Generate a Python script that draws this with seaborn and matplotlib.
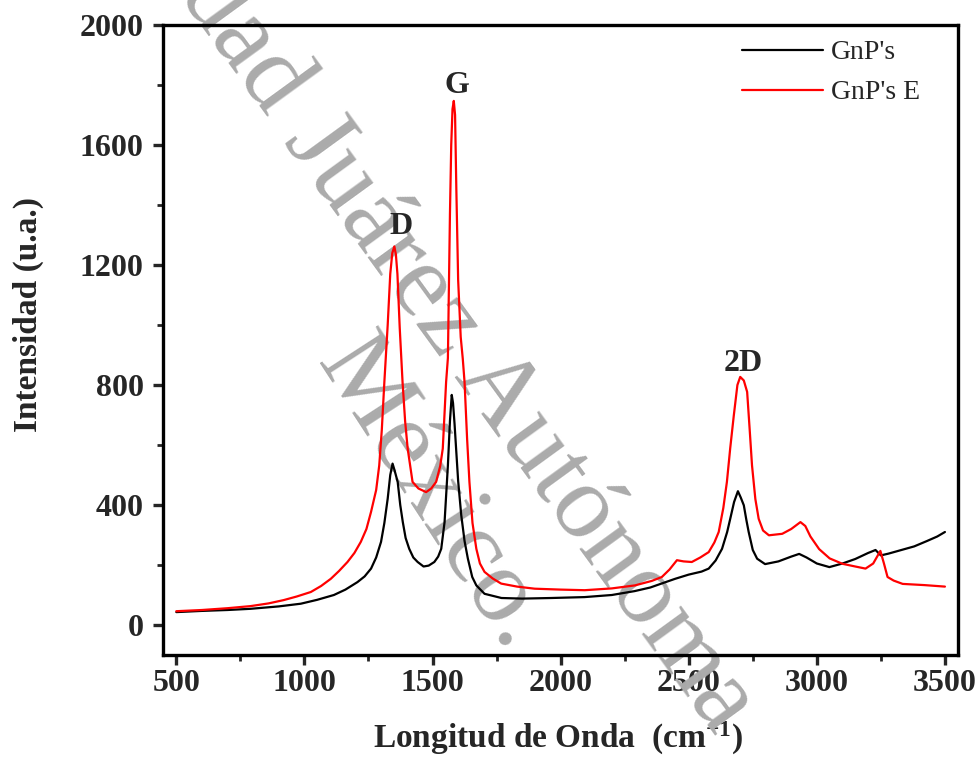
import matplotlib
matplotlib.use("Agg")
import matplotlib.pyplot as plt
import seaborn as sns
import pandas as pd
from matplotlib.ticker import MultipleLocator

# ---------------- data ----------------
series_names = ["GnP's", "GnP's E"]
series_colors = ["#000000", "#ff0000"]

gnp_x = [500, 600, 700, 790, 900, 986, 1050, 1115, 1160, 1207, 1235, 1260, 1280, 1299,
         1312, 1325, 1335, 1344, 1352, 1364, 1374, 1384, 1395, 1409, 1425, 1442, 1465,
         1485, 1507, 1522, 1534, 1547, 1560, 1568, 1575, 1580, 1586, 1592, 1600, 1612,
         1625, 1638, 1655, 1671, 1703, 1769, 1850, 1964, 2093, 2200, 2289, 2350, 2400,
         2447, 2500, 2550, 2578, 2605, 2630, 2650, 2662, 2677, 2692, 2703, 2715, 2725,
         2734, 2750, 2767, 2798, 2850, 2900, 2931, 2960, 3000, 3049, 3100, 3150, 3200,
         3229, 3250, 3280, 3330, 3380, 3430, 3470, 3500]
gnp_y = [43, 47, 50, 54, 62, 71, 84, 100, 118, 143, 162, 188, 225, 277,
         340, 421, 500, 538, 515, 477, 400, 343, 290, 254, 225, 210, 195,
         198, 210, 228, 254, 343, 532, 680, 767, 740, 670, 588, 480, 367,
         280, 221, 160, 132, 104, 90, 88, 90, 93, 100, 113, 125, 140,
         154, 168, 178, 188, 215, 254, 310, 354, 410, 446, 425, 399, 350,
         310, 250, 221, 203, 212, 228, 237, 225, 205, 193, 205, 220, 240,
         250, 232, 238, 250, 262, 280, 295, 310]

gnpe_x = [500, 600, 700, 790, 860, 919, 970, 1025, 1065, 1103, 1135, 1168, 1195, 1220,
          1242, 1260, 1280, 1292, 1302, 1312, 1325, 1335, 1343, 1351, 1357, 1363, 1372,
          1383, 1393, 1403, 1422, 1445, 1475, 1495, 1514, 1530, 1540, 1553, 1560, 1568,
          1573, 1578, 1583, 1588, 1593, 1600, 1610, 1618, 1625, 1635, 1644, 1656, 1671,
          1685, 1703, 1735, 1768, 1830, 1899, 2000, 2094, 2200, 2290, 2356, 2395, 2425,
          2454, 2480, 2512, 2545, 2578, 2600, 2617, 2635, 2649, 2662, 2676, 2690, 2701,
          2715, 2728, 2738, 2747, 2760, 2773, 2790, 2813, 2865, 2900, 2936, 2955, 2975,
          3009, 3050, 3100, 3150, 3190, 3220, 3248, 3262, 3276, 3300, 3335, 3420, 3500]
gnpe_y = [46, 50, 56, 63, 72, 83, 95, 110, 130, 154, 180, 210, 240, 277,
          320, 377, 450, 532, 650, 810, 1000, 1170, 1240, 1262, 1235, 1170, 990,
          810, 680, 588, 477, 455, 443, 455, 477, 530, 588, 810, 890, 1370,
          1600, 1720, 1747, 1700, 1450, 1150, 960, 888, 810, 620, 477, 340, 254,
          205, 177, 155, 138, 128, 121, 118, 116, 122, 132, 147, 160, 185,
          216, 212, 210, 225, 243, 275, 310, 390, 477, 590, 699, 800, 827,
          815, 777, 650, 532, 420, 354, 315, 299, 304, 320, 343, 330, 295,
          253, 222, 204, 195, 188, 205, 247, 205, 160, 148, 137, 133, 128]

peak_labels = ["D", "G", "2D"]
peak_label_x = [1377, 1596, 2712]
peak_label_y = [1330, 1797, 873]

x_ticks = [500, 1000, 1500, 2000, 2500, 3000, 3500]
y_ticks = [0, 400, 800, 1200, 1600, 2000]

watermark_line1a = "Universidad"
watermark_line1b = "Juárez Autónoma"
watermark_line2 = "México."

# ---------------- style ----------------
sns.set_style("ticks")
plt.rcParams["font.family"] = ["Liberation Serif", "DejaVu Serif"]
plt.rcParams["mathtext.fontset"] = "custom"
plt.rcParams["mathtext.rm"] = "Liberation Serif:bold"
plt.rcParams["mathtext.bf"] = "Liberation Serif:bold"
plt.rcParams["mathtext.it"] = "Liberation Serif:bold"

df = pd.concat([
    pd.DataFrame({"x": gnp_x, "y": gnp_y, "serie": series_names[0]}),
    pd.DataFrame({"x": gnpe_x, "y": gnpe_y, "serie": series_names[1]}),
], ignore_index=True)

W, H = 980, 765
fig = plt.figure(figsize=(W / 100, H / 100), dpi=100)
L, R, T, B = 163, 958, 25, 655
ax = fig.add_axes([L / W, 1 - B / H, (R - L) / W, (B - T) / H])

# watermark (behind the curves)
wm = dict(transform=fig.transFigure, rotation_mode="anchor",
          fontsize=76, color="#ababab", zorder=1, clip_on=False,
          fontweight="normal", family="Liberation Serif", va="baseline")
ax.text(267 / W, 1 - 120 / H, watermark_line1a, ha="right", rotation=-54, **wm)
ax.text(283 / W, 1 - 141 / H, watermark_line1b, ha="left", rotation=-54, **wm)
ax.text(316 / W, 1 - 362 / H, watermark_line2, ha="left", rotation=-57, **wm)

sns.lineplot(data=df, x="x", y="y", hue="serie", palette=series_colors,
             estimator=None, sort=False, linewidth=1.6, ax=ax, zorder=2)

ax.set_xlim(448, 3551)
ax.set_ylim(-100, 2000)
ax.set_xticks(x_ticks)
ax.set_yticks(y_ticks)
ax.xaxis.set_minor_locator(MultipleLocator(250))
ax.yaxis.set_minor_locator(MultipleLocator(200))

for s in ax.spines.values():
    s.set_linewidth(2.4)
    s.set_color("black")
    s.set_visible(True)
ax.tick_params(which="major", direction="out", length=7, width=2.4,
               labelsize=23, top=False, right=False)
ax.tick_params(axis="y", which="major", pad=7)
ax.tick_params(axis="x", which="major", pad=3)
ax.tick_params(which="minor", direction="out", length=4, width=2.0,
               top=False, right=False)
for lbl in ax.get_xticklabels() + ax.get_yticklabels():
    lbl.set_fontweight("bold")

ax.set_xlabel("Longitud de Onda  (cm$^{-1}$)", fontsize=24, fontweight="bold")
ax.set_ylabel("Intensidad (u.a.)", fontsize=24, fontweight="bold")
ax.xaxis.set_label_coords((558 - L) / (R - L), (B - 720) / (B - T))
ax.yaxis.set_label_coords((44 - L) / (R - L), (B - 315) / (B - T))

for t, x, y in zip(peak_labels, peak_label_x, peak_label_y):
    ax.text(x, y, t, ha="center", va="center", fontsize=23, fontweight="bold",
            zorder=4)

handles, labels = ax.get_legend_handles_labels()
leg = ax.legend(handles, labels, loc="upper left",
                bbox_to_anchor=((742 - L) / (R - L), (B - 40) / (B - T)),
                frameon=False, fontsize=20, handlelength=2.9,
                handletextpad=0.3, labelspacing=0.52, borderpad=0,
                borderaxespad=0)
for line in leg.get_lines():
    line.set_linewidth(1.6)

fig.savefig("out.png", dpi=100)
